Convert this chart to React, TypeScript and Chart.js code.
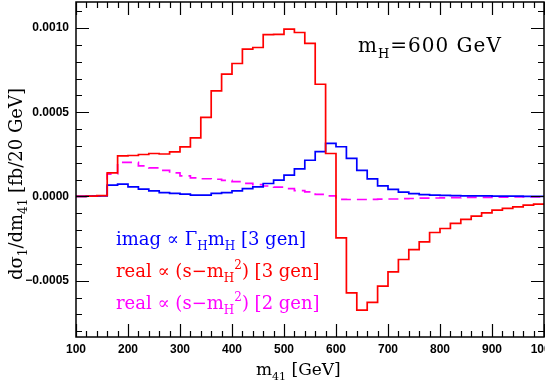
import React, { useEffect, useRef } from "react";
import { Chart, registerables } from "chart.js";

Chart.register(...registerables);

// ---- data ----
const binEdges = [
  100, 120, 140, 160, 180, 200, 220, 240, 260, 280,
  300, 320, 340, 360, 380, 400, 420, 440, 460, 480,
  500, 520, 540, 560, 580, 600, 620, 640, 660, 680,
  700, 720, 740, 760, 780, 800, 820, 840, 860, 880,
  900, 920, 940, 960, 980, 1000,
];

const imagGen3 = [
  0, 0.000002, 0.000004, 0.000067, 0.000073, 0.000057, 0.000043, 0.000033, 0.000023, 0.000018,
  0.000014, 0.000008, 0.000008, 0.000018, 0.000023, 0.000033, 0.000047, 0.000057, 0.000077, 0.000097,
  0.000127, 0.000164, 0.000215, 0.000266, 0.000315, 0.000295, 0.000226, 0.000155, 0.000104, 0.000063,
  0.000042, 0.000026, 0.000017, 0.000011, 0.000008, 0.000006, 0.000005, 0.000004, 0.000003, 0.000003,
  0.000002, 0.000002, 0.000002, 0.000001, 0.000001,
];

const realGen3 = [
  0, 0.000002, 0.000005, 0.00014, 0.000241, 0.000243, 0.000249, 0.000255, 0.000252, 0.000265,
  0.000294, 0.000348, 0.000469, 0.000627, 0.000726, 0.000789, 0.000874, 0.000884, 0.00096, 0.000962,
  0.000993, 0.000973, 0.000908, 0.000666, 0.000255, -0.000246, -0.000572, -0.000675, -0.000629, -0.000532,
  -0.000447, -0.000374, -0.000315, -0.000269, -0.000214, -0.00019, -0.00016, -0.000136, -0.000117, -0.000097,
  -0.000081, -0.000071, -0.000062, -0.000052, -0.000046,
];

const realGen2 = [
  0, 0.000002, 0.000004, 0.000133, 0.000202, 0.000202, 0.000182, 0.00017, 0.000155, 0.00014,
  0.000122, 0.00011, 0.000105, 0.000102, 0.000095, 0.000088, 0.000078, 0.00007, 0.000062, 0.000055,
  0.000047, 0.000035, 0.000027, 0.000012, 0.000004, -0.000017, -0.000018, -0.000018, -0.000017, -0.000016,
  -0.000015, -0.000013, -0.000012, -0.00001, -0.000009, -0.000008, -0.000007, -0.000006, -0.000005, -0.000005,
  -0.000004, -0.000004, -0.000003, -0.000003, -0.000003,
];

const xTickValues = [100, 200, 300, 400, 500, 600, 700, 800, 900, 1000];
const yTickValues = [-0.0005, 0, 0.0005, 0.001];
const yMinorValues = [
  -0.0008, -0.0007, -0.0006, -0.0005, -0.0004, -0.0003, -0.0002, -0.0001, 0,
  0.0001, 0.0002, 0.0003, 0.0004, 0.0005, 0.0006, 0.0007, 0.0008, 0.0009, 0.001, 0.0011,
];
const xRange = [100, 1000];
const yRange = [-0.000834, 0.001154];

// ---- rich text helpers ----
type Seg = { t: string; k?: "sub" | "sup" };
const SERIF = "'DejaVu Serif', serif";

function segFont(size: number, k?: string) {
  const s = k ? Math.round(size * 0.66) : size;
  return `${s}px ${SERIF}`;
}
function measureRich(ctx: CanvasRenderingContext2D, segs: Seg[], size: number) {
  let w = 0;
  for (const s of segs) {
    ctx.font = segFont(size, s.k);
    w += ctx.measureText(s.t).width;
  }
  return w;
}
function drawRich(
  ctx: CanvasRenderingContext2D,
  segs: Seg[],
  x: number,
  y: number,
  size: number,
  color: string
) {
  ctx.fillStyle = color;
  ctx.textBaseline = "alphabetic";
  ctx.textAlign = "left";
  let cx = x;
  for (const s of segs) {
    ctx.font = segFont(size, s.k);
    const dy = s.k === "sub" ? size * 0.28 : s.k === "sup" ? -size * 0.42 : 0;
    ctx.fillText(s.t, cx, y + dy);
    cx += ctx.measureText(s.t).width;
  }
}

const legendLines: { segs: Seg[]; color: string }[] = [
  {
    segs: [{ t: "imag ∝ Γ" }, { t: "H", k: "sub" }, { t: "m" }, { t: "H", k: "sub" }, { t: " [3 gen]" }],
    color: "#0000ff",
  },
  {
    segs: [{ t: "real ∝ (s−m" }, { t: "H", k: "sub" }, { t: "2", k: "sup" }, { t: ") [3 gen]" }],
    color: "#ff0000",
  },
  {
    segs: [{ t: "real ∝ (s−m" }, { t: "H", k: "sub" }, { t: "2", k: "sup" }, { t: ") [2 gen]" }],
    color: "#ff00ff",
  },
];
const massLabel: Seg[] = [{ t: "m" }, { t: "H", k: "sub" }, { t: "=600 GeV" }];
const xTitle: Seg[] = [{ t: "m" }, { t: "41", k: "sub" }, { t: " [GeV]" }];
const yTitle: Seg[] = [
  { t: "dσ" }, { t: "1", k: "sub" }, { t: "/dm" }, { t: "41", k: "sub" }, { t: " [fb/20 GeV]" },
];

function toSteps(values: number[]) {
  return binEdges.map((x, i) => ({ x, y: values[Math.min(i, values.length - 1)] }));
}

const framePlugin = {
  id: "frameTicks",
  afterDatasetsDraw(chart: any) {
    const ctx: CanvasRenderingContext2D = chart.ctx;
    const { left, right, top, bottom } = chart.chartArea;
    const xs = chart.scales.x;
    const ys = chart.scales.y;
    ctx.save();
    ctx.strokeStyle = "#000";
    ctx.lineWidth = 1.2;
    ctx.beginPath();
    for (const v of binEdges) {
      const x = Math.round(xs.getPixelForValue(v)) + 0.5;
      const len = xTickValues.includes(v) ? 13 : 6;
      ctx.moveTo(x, bottom);
      ctx.lineTo(x, bottom - len);
      ctx.moveTo(x, top);
      ctx.lineTo(x, top + len);
    }
    for (const v of yMinorValues) {
      const y = Math.round(ys.getPixelForValue(v)) + 0.5;
      const major = yTickValues.some((t) => Math.abs(t - v) < 1e-9);
      const len = major ? 13 : 6;
      ctx.moveTo(left, y);
      ctx.lineTo(left + len, y);
      ctx.moveTo(right, y);
      ctx.lineTo(right - len, y);
    }
    ctx.stroke();
    ctx.lineWidth = 1.5;
    ctx.strokeRect(left, top, right - left, bottom - top);
    ctx.restore();
  },
  afterDraw(chart: any) {
    const ctx: CanvasRenderingContext2D = chart.ctx;
    ctx.save();
    const baselines = [245, 277, 309];
    legendLines.forEach((l, i) => drawRich(ctx, l.segs, 116, baselines[i], 18, l.color));
    ctx.save();
    (ctx as any).letterSpacing = "1px";
    drawRich(ctx, massLabel, 358, 52, 20, "#000");
    ctx.restore();
    drawRich(ctx, xTitle, 256, 375, 17, "#000");
    const w = measureRich(ctx, yTitle, 18);
    ctx.translate(22, 184);
    ctx.rotate(-Math.PI / 2);
    drawRich(ctx, yTitle, -w / 2, 0, 18, "#000");
    ctx.restore();
  },
};

export default function App() {
  const ref = useRef<HTMLCanvasElement | null>(null);
  useEffect(() => {
    document.body.style.margin = "0";
    const canvas = ref.current!;
    const tickFont = { family: "'Liberation Sans', Arial, sans-serif", size: 12, weight: "bold" as const };
    const chart = new Chart(canvas, {
      type: "line",
      data: {
        datasets: [
          {
            label: "imag",
            data: toSteps(imagGen3),
            borderColor: "#0000ff",
            borderWidth: 1.7,
            stepped: "before",
            pointRadius: 0,
            fill: false,
            order: 1,
          },
          {
            label: "real 3 gen",
            data: toSteps(realGen3),
            borderColor: "#ff0000",
            borderWidth: 1.7,
            stepped: "before",
            pointRadius: 0,
            fill: false,
            order: 0,
          },
          {
            label: "real 2 gen",
            data: toSteps(realGen2),
            borderColor: "#ff00ff",
            borderWidth: 1.7,
            borderDash: [10, 6],
            stepped: "before",
            pointRadius: 0,
            fill: false,
            order: 2,
          },
        ],
      },
      options: {
        animation: false,
        responsive: false,
        devicePixelRatio: 1,
        layout: { padding: { top: 2, right: 1, left: 0, bottom: 0 } },
        plugins: { legend: { display: false }, tooltip: { enabled: false } },
        scales: {
          x: {
            type: "linear",
            min: xRange[0],
            max: xRange[1],
            grid: { display: false, drawTicks: false },
            border: { display: false },
            afterBuildTicks: (s: any) => {
              s.ticks = xTickValues.map((v) => ({ value: v }));
            },
            afterFit: (s: any) => {
              s.height = 43;
              s.paddingLeft = 0;
              s.paddingRight = 0;
            },
            ticks: {
              autoSkip: false,
              maxRotation: 0,
              padding: 5,
              color: "#000",
              font: tickFont,
              callback: (v: any) => String(v),
            },
          },
          y: {
            type: "linear",
            min: yRange[0],
            max: yRange[1],
            grid: { display: false, drawTicks: false },
            border: { display: false },
            afterBuildTicks: (s: any) => {
              s.ticks = yTickValues.map((v) => ({ value: v }));
            },
            afterFit: (s: any) => {
              s.width = 76;
              s.paddingTop = 0;
              s.paddingBottom = 0;
            },
            ticks: {
              autoSkip: false,
              padding: 7,
              color: "#000",
              font: tickFont,
              callback: (v: any) => {
                const n = Number(v);
                const s = Math.abs(n).toFixed(4);
                return n < 0 ? "−" + s : s;
              },
            },
          },
        },
      },
      plugins: [framePlugin],
    });
    return () => chart.destroy();
  }, []);
  return (
    <div style={{ position: "relative", width: 545, height: 380 }}>
      <canvas ref={ref} width={545} height={380} style={{ width: 545, height: 380, display: "block" }} />
    </div>
  );
}
